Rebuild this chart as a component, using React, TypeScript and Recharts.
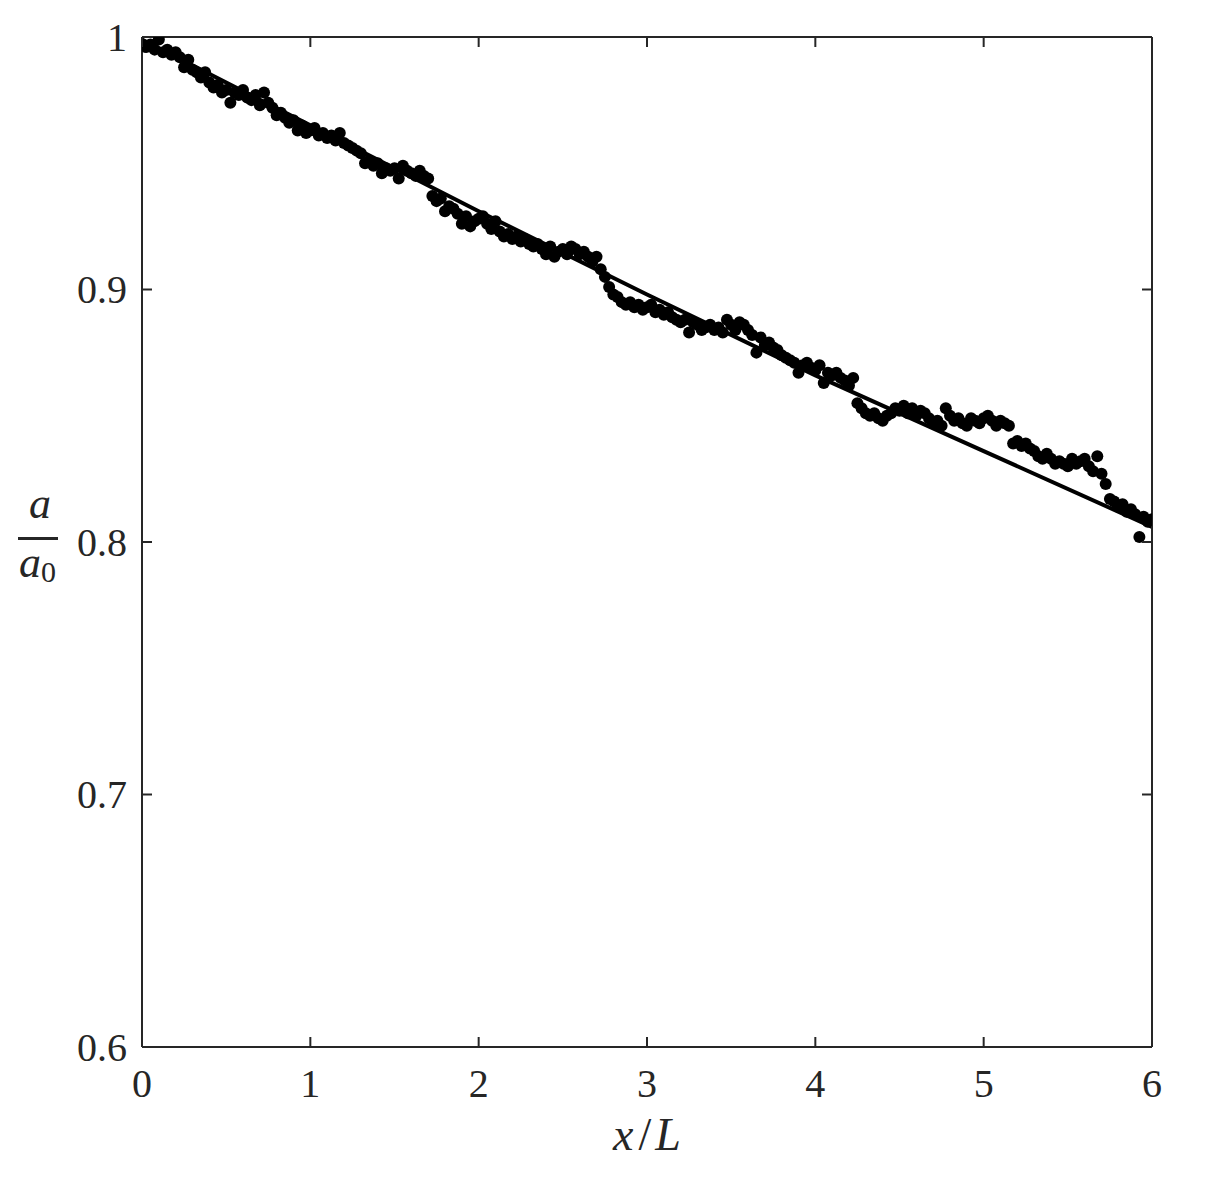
import React from 'react';
import { ComposedChart, Scatter, Line, XAxis, YAxis } from 'recharts';

// x/L spacing of the measured samples
const X_STEP = 0.025;

// measured a/a0, one value every X_STEP from x/L = 0 to 6
const MEASURED_RATIO: number[] = [
  0.997, 0.996, 0.997, 0.995, 0.999, 0.994, 0.995, 0.993, 0.994, 0.992, 0.988, 0.991, 0.987, 0.986, 0.984, 0.986, 0.982, 0.980, 0.981, 0.978,
  0.979, 0.974, 0.978, 0.977, 0.979, 0.976, 0.975, 0.977, 0.973, 0.978, 0.974, 0.972, 0.969, 0.970, 0.968, 0.966, 0.967, 0.963, 0.965, 0.962,
  0.963, 0.964, 0.961, 0.962, 0.960, 0.961, 0.959, 0.962, 0.958, 0.957, 0.956, 0.955, 0.954, 0.950, 0.951, 0.949, 0.950, 0.946, 0.948, 0.947,
  0.948, 0.944, 0.949, 0.947, 0.946, 0.945, 0.947, 0.945, 0.944, 0.937, 0.935, 0.936, 0.931, 0.933, 0.932, 0.930, 0.926, 0.929, 0.925, 0.927,
  0.928, 0.929, 0.926, 0.924, 0.927, 0.923, 0.921, 0.922, 0.920, 0.921, 0.919, 0.920, 0.918, 0.917, 0.918, 0.916, 0.914, 0.917, 0.913, 0.915,
  0.916, 0.914, 0.917, 0.916, 0.914, 0.915, 0.913, 0.911, 0.913, 0.908, 0.905, 0.901, 0.898, 0.897, 0.895, 0.894, 0.895, 0.893, 0.894, 0.892,
  0.893, 0.894, 0.891, 0.892, 0.890, 0.891, 0.889, 0.888, 0.887, 0.888, 0.883, 0.887, 0.886, 0.884, 0.885, 0.886, 0.884, 0.885, 0.883, 0.888,
  0.886, 0.884, 0.887, 0.886, 0.884, 0.882, 0.875, 0.881, 0.878, 0.879, 0.877, 0.876, 0.874, 0.873, 0.872, 0.871, 0.867, 0.870, 0.871, 0.869,
  0.868, 0.870, 0.863, 0.867, 0.866, 0.867, 0.865, 0.864, 0.862, 0.865, 0.855, 0.853, 0.851, 0.850, 0.851, 0.849, 0.848, 0.850, 0.851, 0.853,
  0.852, 0.854, 0.851, 0.853, 0.850, 0.852, 0.851, 0.849, 0.847, 0.848, 0.846, 0.853, 0.850, 0.848, 0.849, 0.847, 0.846, 0.849, 0.848, 0.847,
  0.849, 0.850, 0.848, 0.846, 0.848, 0.847, 0.846, 0.839, 0.840, 0.838, 0.839, 0.837, 0.836, 0.834, 0.833, 0.835, 0.833, 0.831, 0.832, 0.831,
  0.830, 0.833, 0.831, 0.832, 0.833, 0.830, 0.828, 0.834, 0.827, 0.823, 0.817, 0.816, 0.814, 0.815, 0.812, 0.813, 0.811, 0.802, 0.810, 0.808,
  0.809,
];

// fitted decay curve, read at integer x/L
const FIT_X: number[] = [0, 1, 2, 3, 4, 5, 6];
const FIT_RATIO: number[] = [0.999, 0.965, 0.931, 0.898, 0.866, 0.836, 0.806];

const X_TICKS: number[] = [0, 1, 2, 3, 4, 5, 6];
const Y_TICKS: number[] = [0.6, 0.7, 0.8, 0.9, 1];

const measured = MEASURED_RATIO.map((y, i) => ({ x: Number((i * X_STEP).toFixed(3)), y }));
const fit = FIT_X.map((x, i) => ({ x, y: FIT_RATIO[i] }));

const INK = '#262626';
const FONT = '"Liberation Serif", "Times New Roman", serif';
const TICK_LEN = 10;

const BottomTick = (props: any) => {
  const { x, y, payload } = props;
  return (
    <g>
      <line x1={x} y1={y} x2={x} y2={y - TICK_LEN} stroke={INK} strokeWidth={2} />
      <text x={x} y={y + 50} textAnchor="middle" fontFamily={FONT} fontSize={40} fill={INK}>
        {String(payload.value)}
      </text>
    </g>
  );
};

const TopTick = (props: any) => {
  const { x, y } = props;
  return <line x1={x} y1={y} x2={x} y2={y + TICK_LEN} stroke={INK} strokeWidth={2} />;
};

const LeftTick = (props: any) => {
  const { x, y, payload } = props;
  return (
    <g>
      <line x1={x} y1={y} x2={x + TICK_LEN} y2={y} stroke={INK} strokeWidth={2} />
      <text x={x - 15} y={y + 13.5} textAnchor="end" fontFamily={FONT} fontSize={40} fill={INK}>
        {String(payload.value)}
      </text>
    </g>
  );
};

const RightTick = (props: any) => {
  const { x, y } = props;
  return <line x1={x} y1={y} x2={x - TICK_LEN} y2={y} stroke={INK} strokeWidth={2} />;
};

const XLabel = (props: any) => {
  const vb = props.viewBox || {};
  const cx = vb.x + vb.width / 2;
  const by = vb.y + 103;
  return (
    <text x={cx} y={by} textAnchor="middle" fontFamily={FONT} fontSize={46} fill={INK}>
      <tspan fontStyle="italic">x</tspan>
      <tspan dx={5}>/</tspan>
      <tspan dx={4} fontStyle="italic">L</tspan>
    </text>
  );
};

const YLabel = (props: any) => {
  const vb = props.viewBox || {};
  const cy = vb.y + vb.height / 2;
  const cx = 30;
  return (
    <g fill={INK} fontFamily={FONT}>
      <text x={cx + 2} y={cy - 24} textAnchor="middle" fontSize={44} fontStyle="italic">a</text>
      <line x1={cx - 20} y1={cy - 3.5} x2={cx + 20} y2={cy - 3.5} stroke={INK} strokeWidth={3} />
      <text x={cx - 8} y={cy + 35} textAnchor="middle" fontSize={44} fontStyle="italic">a</text>
      <text x={cx + 3} y={cy + 40} textAnchor="start" fontSize={30}>0</text>
    </g>
  );
};

const Dot = (props: any) => {
  const { cx, cy } = props;
  if (cx == null || cy == null) return null;
  return <circle cx={cx} cy={cy} r={6} fill="#000" />;
};

export default function App() {
  return (
    <div style={{ width: 1190, height: 1170, background: '#fff' }}>
      <ComposedChart width={1190} height={1170} margin={{ top: 28, right: 45, bottom: 11, left: 4 }}>
        <XAxis
          xAxisId="bottom"
          orientation="bottom"
          type="number"
          dataKey="x"
          domain={[0, 6]}
          ticks={X_TICKS}
          interval={0}
          allowDataOverflow
          height={120}
          tickSize={0}
          tickMargin={0}
          tickLine={false}
          axisLine={{ stroke: INK, strokeWidth: 2 }}
          tick={BottomTick}
          label={{ content: XLabel }}
        />
        <XAxis
          xAxisId="top"
          orientation="top"
          type="number"
          dataKey="x"
          domain={[0, 6]}
          ticks={X_TICKS}
          interval={0}
          allowDataOverflow
          height={1}
          tickSize={0}
          tickMargin={0}
          tickLine={false}
          axisLine={{ stroke: INK, strokeWidth: 2 }}
          tick={TopTick}
        />
        <YAxis
          yAxisId="left"
          orientation="left"
          type="number"
          dataKey="y"
          domain={[0.6, 1]}
          ticks={Y_TICKS}
          interval={0}
          allowDataOverflow
          width={130}
          tickSize={0}
          tickMargin={0}
          tickLine={false}
          axisLine={{ stroke: INK, strokeWidth: 2 }}
          tick={LeftTick}
          label={{ content: YLabel }}
        />
        <YAxis
          yAxisId="right"
          orientation="right"
          type="number"
          dataKey="y"
          domain={[0.6, 1]}
          ticks={Y_TICKS}
          interval={0}
          allowDataOverflow
          width={1}
          tickSize={0}
          tickMargin={0}
          tickLine={false}
          axisLine={{ stroke: INK, strokeWidth: 2 }}
          tick={RightTick}
        />
        <Line
          data={fit}
          dataKey="y"
          xAxisId="bottom"
          yAxisId="left"
          type="linear"
          stroke="#000"
          strokeWidth={4}
          dot={false}
          activeDot={false}
          isAnimationActive={false}
        />
        <Scatter
          data={measured}
          dataKey="y"
          xAxisId="bottom"
          yAxisId="left"
          fill="#000"
          shape={Dot}
          isAnimationActive={false}
        />
      </ComposedChart>
    </div>
  );
}
